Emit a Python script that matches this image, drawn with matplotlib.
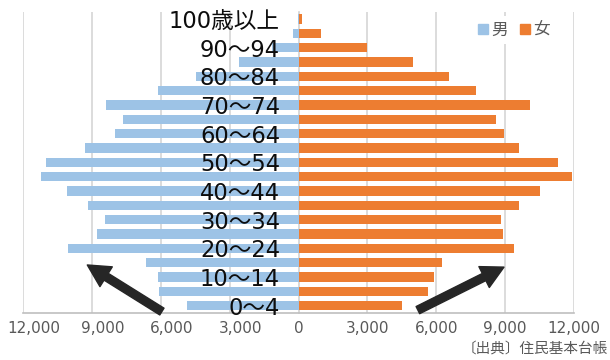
import matplotlib.pyplot as plt
import matplotlib.transforms as mtransforms
from matplotlib.patches import Patch
from matplotlib.ticker import FuncFormatter

plt.rcParams['font.family'] = ['DejaVu Sans', 'Noto Sans CJK JP']

# 5-year age bands, youngest first
age_groups = ['0～4', '5～9', '10～14', '15～19', '20～24', '25～29', '30～34',
              '35～39', '40～44', '45～49', '50～54', '55～59', '60～64', '65～69',
              '70～74', '75～79', '80～84', '85～89', '90～94', '95～99', '100歳以上']
male = [4850, 6060, 6120, 6650, 10030, 8790, 8420, 9170, 10070, 11210, 11000,
        9290, 8010, 7650, 8390, 6110, 4450, 2590, 1150, 230, 20]
female = [4510, 5630, 5880, 6270, 9370, 8920, 8840, 9590, 10500, 11910, 11290,
          9600, 8940, 8600, 10090, 7720, 6570, 4990, 2970, 960, 150]
x_ticks = [-12000, -9000, -6000, -3000, 0, 3000, 6000, 9000, 12000]

male_color = '#9DC3E6'
female_color = '#ED7D31'

fig = plt.figure(figsize=(6.1, 3.6), dpi=100)
ax = fig.add_axes([0.0377, 0.1306, 0.9033, 0.8361])

pos = list(range(len(age_groups)))
ax.barh(pos, [-v for v in male], height=0.65, color=male_color, zorder=2)
ax.barh(pos, female, height=0.65, color=female_color, zorder=2)

ax.set_xlim(-12000, 12000)
ax.set_ylim(-0.5, len(age_groups) - 0.5)
ax.set_xticks(x_ticks)
ax.xaxis.set_major_formatter(FuncFormatter(lambda v, p: f'{abs(int(v)):,}'))
ax.tick_params(axis='x', length=0, labelsize=11, labelcolor='#595959', pad=6)
ax.set_yticks([])

ax.grid(axis='x', color='#D9D9D9', lw=1.3)
ax.set_axisbelow(True)
for side in ['top', 'right']:
    ax.spines[side].set_visible(False)
ax.spines['left'].set_position(('data', 0))
ax.spines['left'].set_color('#D9D9D9')
ax.spines['left'].set_linewidth(1.3)
ax.spines['left'].set_zorder(1)
ax.spines['bottom'].set_color('#BFBFBF')
ax.spines['bottom'].set_linewidth(1.2)

# every other age band is labelled, just left of the centre line, over the bars
for i in pos[::2]:
    ax.annotate(age_groups[i], xy=(0, i), xytext=(-13.3, -1.8),
                textcoords='offset points', ha='right', va='center',
                fontsize=16.3, color='#0D0D0D', zorder=5)

fig.canvas.draw()
# the male-side tick labels sit a little to the right of their gridlines
shift = mtransforms.ScaledTranslation(11 / 100, 0, fig.dpi_scale_trans)
for val, lab in zip(x_ticks, ax.get_xticklabels()):
    if val < 0:
        lab.set_transform(lab.get_transform() + shift)

arrow = dict(arrowstyle='simple,head_length=1.0,head_width=1.05,tail_width=0.36',
             mutation_scale=16, color='#262626', shrinkA=0, shrinkB=0)
ax.annotate('', xy=(-9200, 2.85), xytext=(-5950, -0.4), arrowprops=arrow,
            annotation_clip=False)
ax.annotate('', xy=(8950, 2.7), xytext=(5200, -0.3), arrowprops=arrow,
            annotation_clip=False)

handles = [Patch(color=male_color, label='男'), Patch(color=female_color, label='女')]
leg = fig.legend(handles=handles, loc='center', bbox_to_anchor=(0.843, 0.917),
                 ncol=2, frameon=True, fontsize=12, handlelength=0.6,
                 handleheight=0.6, handletextpad=0.2, columnspacing=0.7,
                 borderpad=0.3, labelcolor='#595959')
leg.get_frame().set_edgecolor('none')
leg.get_frame().set_facecolor('white')
leg.get_frame().set_alpha(1)

fig.text(0.997, 0.033, '〔出典〕住民基本台帳', ha='right', va='center',
         fontsize=10.5, color='#595959', family=['Noto Sans CJK JP'])

fig.savefig('out.png', dpi=100)
